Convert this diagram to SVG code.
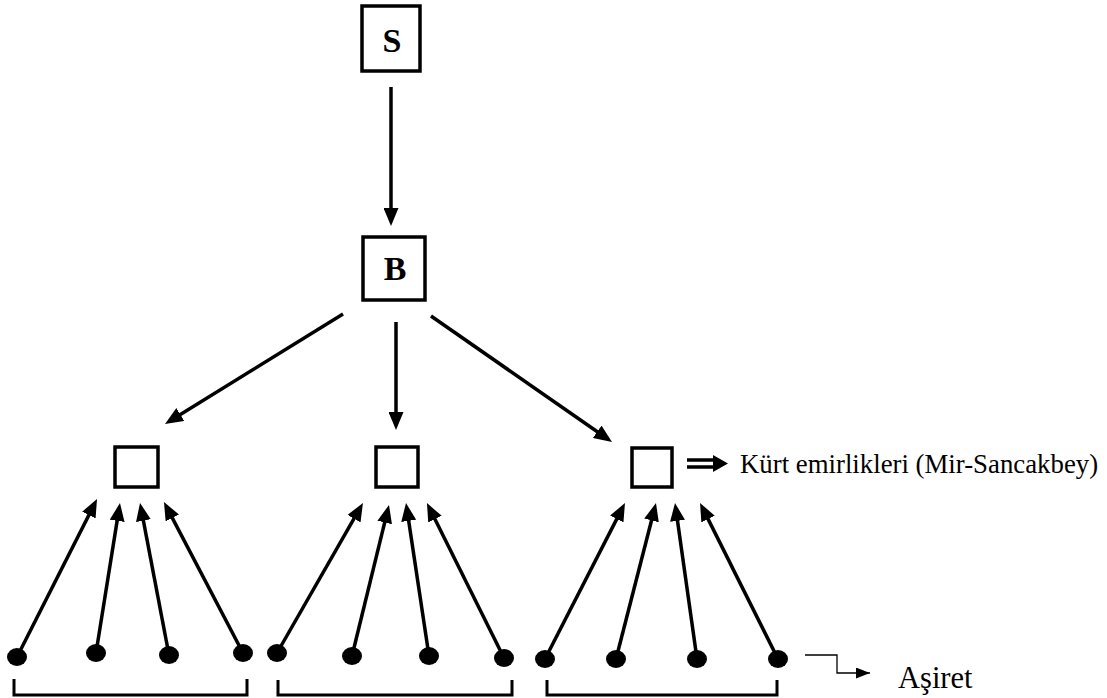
<svg xmlns="http://www.w3.org/2000/svg" width="1107" height="698" viewBox="0 0 1107 698">
<style>
.box{fill:#fff;stroke:#000;stroke-width:3.5}
.lbl{font-family:"Liberation Serif","Times New Roman",serif;font-weight:bold;font-size:34px;text-anchor:middle}
.txt{font-family:"Liberation Serif","Times New Roman",serif;fill:#000}
.con{stroke:#000;stroke-width:3.5;fill:none;marker-end:url(#ah)}
.dot{fill:#000}
.br{stroke:#000;stroke-width:3;fill:none}
</style>
<defs>
<marker id="ah" markerUnits="userSpaceOnUse" markerWidth="18" markerHeight="15" viewBox="0 0 18 15" refX="8" refY="7.5" orient="auto">
<path d="M0,0 L18,7.5 L0,15 z" fill="#000"/>
</marker>
<marker id="ah2" markerUnits="userSpaceOnUse" markerWidth="14" markerHeight="11" viewBox="0 0 14 11" refX="14" refY="5.5" orient="auto">
<path d="M0,0 L14,5.5 L0,11 z" fill="#000"/>
</marker>
</defs>
<g id="node-S"><rect class="box" x="362" y="6" width="58" height="65"/><text class="lbl" x="392" y="52">S</text></g>
<g id="node-B"><rect class="box" x="363" y="237" width="62" height="63"/><text class="lbl" x="395" y="280">B</text></g>
<g id="node-E1"><rect class="box" x="115" y="447" width="43" height="40"/></g>
<g id="node-E2"><rect class="box" x="376" y="447" width="42" height="40"/></g>
<g id="node-E3"><rect class="box" x="632" y="448" width="40" height="39"/></g>
<g id="node-tribes1"><ellipse class="dot" cx="17" cy="657" rx="10" ry="9"/><ellipse class="dot" cx="96" cy="653" rx="10" ry="9"/><ellipse class="dot" cx="169" cy="655" rx="10" ry="9"/><ellipse class="dot" cx="243" cy="653" rx="10" ry="9"/><path class="br" d="M14,679 V695 H247 V679"/></g>
<g id="node-tribes2"><ellipse class="dot" cx="277" cy="653" rx="10" ry="9"/><ellipse class="dot" cx="352" cy="656" rx="10" ry="9"/><ellipse class="dot" cx="429" cy="656" rx="10" ry="9"/><ellipse class="dot" cx="504" cy="658" rx="10" ry="9"/><path class="br" d="M278,680 V695 H512 V680"/></g>
<g id="node-tribes3"><ellipse class="dot" cx="545" cy="659" rx="10" ry="9"/><ellipse class="dot" cx="616" cy="659" rx="10" ry="9"/><ellipse class="dot" cx="697" cy="659" rx="10" ry="9"/><ellipse class="dot" cx="778" cy="659" rx="10" ry="9"/><path class="br" d="M547,680 V695 H777 V680"/></g>
<g id="legend-emir">
<path d="M687,460 H716 M687,467 H716" stroke="#000" stroke-width="3.5" fill="none"/>
<path d="M713,455 L728,463.5 L713,472 z" fill="#000"/>
<text class="txt" x="740" y="473" font-size="26.8">Kürt emirlikleri (Mir-Sancakbey)</text>
</g>
<g id="legend-asiret">
<path d="M805,655 H837 V673 H870" stroke="#000" stroke-width="1.3" fill="none" marker-end="url(#ah2)"/>
<text class="txt" x="898" y="688" font-size="30.5">Aşiret</text>
</g>
<g id="connectors">
<line class="con" x1="391" y1="87" x2="391" y2="216"/>
<line class="con" x1="343" y1="314" x2="173.5" y2="418.7"/>
<line class="con" x1="396" y1="322" x2="396" y2="420"/>
<line class="con" x1="431" y1="316" x2="603.8" y2="436.3"/>
<line class="con" x1="17" y1="657" x2="92.5" y2="507.9"/>
<line class="con" x1="96" y1="653" x2="118.4" y2="512.9"/>
<line class="con" x1="169" y1="655" x2="141.9" y2="512.8"/>
<line class="con" x1="243" y1="653" x2="168.6" y2="510.9"/>
<line class="con" x1="277" y1="653" x2="358" y2="511.7"/>
<line class="con" x1="352" y1="656" x2="386.6" y2="514.7"/>
<line class="con" x1="429" y1="656" x2="407.5" y2="512.9"/>
<line class="con" x1="504" y1="658" x2="431.4" y2="512"/>
<line class="con" x1="545" y1="659" x2="620.4" y2="511.9"/>
<line class="con" x1="616" y1="659" x2="653.5" y2="512.7"/>
<line class="con" x1="697" y1="659" x2="676.4" y2="512.9"/>
<line class="con" x1="778" y1="659" x2="704.5" y2="511.9"/>
</g>
</svg>
